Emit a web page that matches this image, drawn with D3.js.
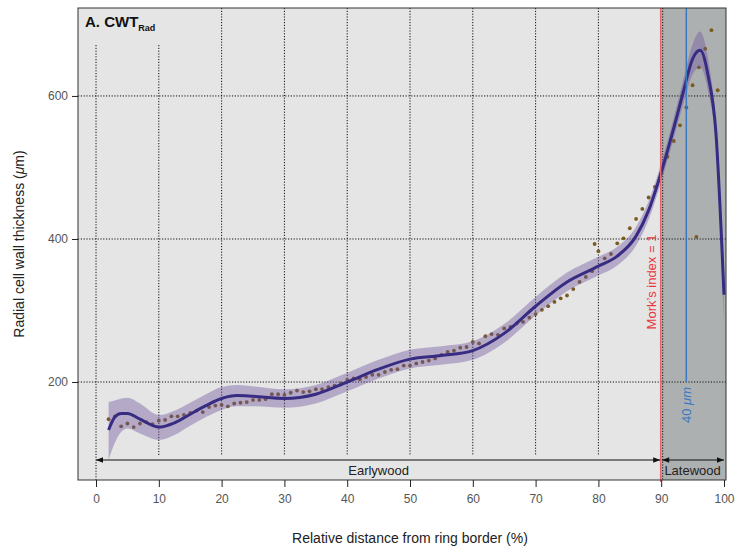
<!DOCTYPE html>
<html>
<head>
<meta charset="utf-8">
<script src="https://cdn.jsdelivr.net/npm/d3@7"></script>
<style>
  body { margin: 0; background: #fff; }
  text { font-family: "Liberation Sans", Arial, sans-serif; }
</style>
</head>
<body>
<div id="chart-area"></div>
<script>
// measured points (brown dots)
const dotX = [2, 3, 4, 5, 6, 7, 8, 9, 10, 11, 12, 13, 14, 15, 16, 17, 18, 19, 20,
  21, 22, 23, 24, 25, 26, 27, 28, 29, 30, 31, 32, 33, 34, 35, 36, 37, 38, 39, 40,
  41, 42, 43, 44, 45, 46, 47, 48, 49, 50, 51, 52, 53, 54, 55, 56, 57, 58, 59, 60,
  61, 62, 63, 64, 65, 66, 67, 68, 69, 70, 71, 72, 73, 74, 75, 76, 77, 78, 79, 79.4,
  80, 81, 82, 83, 84, 85, 86, 87, 88, 89, 90, 91, 92, 93, 94, 95, 95.6, 96, 97, 98, 99];
const dotY = [148, 152, 138, 142, 137, 142, 144, 141, 146, 147, 152, 152, 154, 157, 160, 158, 165, 167, 168,
  166, 170, 171, 172, 175, 175, 176, 183, 183, 182, 185, 188, 186, 187, 190, 190, 193, 195, 198, 203,
  205, 204, 207, 210, 210, 214, 217, 218, 223, 223, 226, 228, 230, 233, 238, 242, 244, 248, 249, 256,
  254, 264, 267, 266, 275, 277, 282, 284, 290, 295, 301, 306, 312, 317, 321, 330, 340, 347, 355, 393,
  383, 373, 379, 394, 401, 415, 428, 442, 458, 473, 492, 515, 537, 559, 584, 615, 403, 640, 666, 692, 608];

// fitted curve and its confidence band
const fitX = [2, 3, 4, 5, 7, 10, 12.5, 15, 17.5, 20, 22.5, 25, 30, 35, 40, 45, 50, 55, 60,
  65, 70, 75, 80, 83, 86, 88, 90, 92, 93.5, 95, 96.2, 97.5, 98.7, 100];
const fitY = [133, 151, 156, 156, 148, 137, 143, 155, 167, 177, 181, 180, 177, 183, 200, 218, 232, 237, 244,
  268, 306, 340, 362, 376, 404, 440, 493, 555, 605, 652, 664, 627, 550, 322];
const fitLo = [91, 115, 130, 135, 128, 119, 126, 139, 151, 161, 166, 166, 164, 170, 187, 205, 219, 224, 231,
  255, 293, 327, 349, 363, 391, 427, 480, 541, 588, 630, 640, 605, 530, 285];
const fitHi = [172, 174, 177, 178, 170, 154, 160, 171, 183, 193, 196, 194, 190, 196, 213, 231, 245, 250, 257,
  281, 319, 353, 375, 389, 417, 453, 506, 570, 622, 672, 690, 650, 565, 350];

const xTicks = [0, 10, 20, 30, 40, 50, 60, 70, 80, 90, 100];
const yTicks = [200, 400, 600];
const gridX = [0, 10, 20, 30, 40, 50, 60, 70, 80];
const morkIndex = 90;
const scaleBarX = 94;

const margin = { left: 78, right: 15, top: 8, bottom: 75 };
const width = 741 - margin.left - margin.right,
  height = 555 - margin.top - margin.bottom;

const svg = d3.select("#chart-area")
  .append("svg")
  .attr("width", 741)
  .attr("height", 555);

const g = svg.append("g")
  .attr("transform", "translate(" + margin.left + ", " + margin.top + ")");

const x = d3.scaleLinear()
  .domain([-2.87, 100.32])
  .range([0, width]);

const y = d3.scaleLinear()
  .domain([63, 723])
  .range([height, 0]);

// panel background + latewood zone
g.append("rect")
  .attr("width", width)
  .attr("height", height)
  .attr("fill", "#e5e5e5");

g.append("rect")
  .attr("x", x(morkIndex))
  .attr("width", width - x(morkIndex))
  .attr("height", height)
  .attr("fill", "#adb0b1");

// grid
const dotted = "1.2,1.6";
g.selectAll(".hgrid")
  .data(yTicks)
  .enter()
  .append("line")
  .attr("class", "hgrid")
  .attr("x1", 0)
  .attr("x2", width)
  .attr("y1", (d) => y(d))
  .attr("y2", (d) => y(d))
  .attr("stroke", "#111")
  .attr("stroke-dasharray", dotted);

g.selectAll(".vgrid")
  .data(gridX)
  .enter()
  .append("line")
  .attr("class", "vgrid")
  .attr("x1", (d) => x(d))
  .attr("x2", (d) => x(d))
  .attr("y1", (d) => (d < 20 ? 37 : 0))
  .attr("y2", (d) => (d === 0 ? height : 448))
  .attr("stroke", "#111")
  .attr("stroke-dasharray", dotted);

g.append("line")
  .attr("x1", x(morkIndex) + 1.5)
  .attr("x2", x(morkIndex) + 1.5)
  .attr("y1", 0)
  .attr("y2", height)
  .attr("stroke", "#111")
  .attr("stroke-dasharray", dotted);

// dots (drawn under the band)
g.selectAll(".dot")
  .data(dotX)
  .enter()
  .append("circle")
  .attr("class", "dot")
  .attr("cx", (d) => x(d))
  .attr("cy", (d, i) => y(dotY[i]))
  .attr("r", 1.9)
  .attr("fill", "#7a5a1e");

// confidence band
const area = d3.area()
  .x((d) => x(d))
  .y0((d, i) => y(fitLo[i]))
  .y1((d, i) => y(fitHi[i]))
  .curve(d3.curveMonotoneX);

g.append("path")
  .datum(fitX)
  .attr("d", area)
  .attr("fill", "#6c529e")
  .attr("fill-opacity", 0.4);

// fitted line
const line = d3.line()
  .x((d) => x(d))
  .y((d, i) => y(fitY[i]))
  .curve(d3.curveMonotoneX);

g.append("path")
  .datum(fitX)
  .attr("d", line)
  .attr("fill", "none")
  .attr("stroke", "#372c82")
  .attr("stroke-width", 3);

// Mork's index line
g.append("line")
  .attr("x1", x(morkIndex) - 0.5)
  .attr("x2", x(morkIndex) - 0.5)
  .attr("y1", 0)
  .attr("y2", height + 2)
  .attr("stroke", "#e4676b")
  .attr("stroke-width", 1.5);

g.append("text")
  .attr("transform", "translate(" + (x(morkIndex) - 5) + ", " + 274 + ") rotate(-90)")
  .attr("text-anchor", "middle")
  .attr("font-size", "13px")
  .attr("fill", "#e8373f")
  .text("Mork\u2019s index = 1");

// 40 µm scale bar
g.append("line")
  .attr("x1", x(scaleBarX))
  .attr("x2", x(scaleBarX))
  .attr("y1", 0)
  .attr("y2", y(200))
  .attr("stroke", "#3a78c2")
  .attr("stroke-width", 1.5);

const barLabel = g.append("text")
  .attr("transform", "translate(" + (x(scaleBarX) + 5) + ", " + 397 + ") rotate(-90)")
  .attr("text-anchor", "middle")
  .attr("font-size", "13px")
  .attr("fill", "#3a78c2");
barLabel.append("tspan").text("40 ");
barLabel.append("tspan").attr("font-style", "italic").text("\u03bcm");

// earlywood / latewood arrows
svg.append("defs").selectAll("marker")
  .data(["start", "end"])
  .enter()
  .append("marker")
  .attr("id", (d) => "arrow-" + d)
  .attr("viewBox", "0 0 10 10")
  .attr("refX", 10)
  .attr("refY", 5)
  .attr("markerWidth", 9)
  .attr("markerHeight", 7)
  .attr("markerUnits", "userSpaceOnUse")
  .attr("orient", (d) => (d === "end" ? "auto" : "auto-start-reverse"))
  .append("path")
  .attr("d", "M0,1 L10,5 L0,9 Z")
  .attr("fill", "#111");

const zones = [
  { name: "Earlywood", from: 0, to: morkIndex },
  { name: "Latewood", from: morkIndex, to: 100 },
];

g.selectAll(".zone")
  .data(zones)
  .enter()
  .append("line")
  .attr("class", "zone")
  .attr("x1", (d) => x(d.from) + (d.from === 0 ? 0 : 1))
  .attr("x2", (d) => x(d.to) - (d.to === 100 ? 0 : 1))
  .attr("y1", 452)
  .attr("y2", 452)
  .attr("stroke", "#111")
  .attr("stroke-width", 1)
  .attr("marker-start", "url(#arrow-start)")
  .attr("marker-end", "url(#arrow-end)");

g.selectAll(".zone-label")
  .data(zones)
  .enter()
  .append("text")
  .attr("class", "zone-label")
  .attr("x", (d) => x((d.from + d.to) / 2))
  .attr("y", 467)
  .attr("text-anchor", "middle")
  .attr("font-size", "13px")
  .attr("fill", "#222")
  .text((d) => d.name);

// panel frame
g.append("rect")
  .attr("width", width)
  .attr("height", height)
  .attr("fill", "none")
  .attr("stroke", "#333")
  .attr("stroke-width", 1);

// title
const title = g.append("text")
  .attr("x", 7)
  .attr("y", 19)
  .attr("font-size", "15px")
  .attr("font-weight", "bold")
  .attr("fill", "#111");
title.append("tspan").text("A. CWT");
title.append("tspan")
  .attr("font-size", "9px")
  .attr("dy", 4)
  .text("Rad");

// axes
const xAxisCall = d3.axisBottom(x)
  .tickValues(xTicks)
  .tickSize(7)
  .tickSizeOuter(0);
const xAxis = g.append("g")
  .attr("class", "x axis")
  .attr("transform", "translate(0, " + height + ")")
  .call(xAxisCall);
xAxis.select(".domain").remove();
xAxis.selectAll("text")
  .attr("font-size", "12px")
  .attr("fill", "#555")
  .attr("dy", "1.05em");
xAxis.selectAll("line").attr("stroke", "#222");

const yAxisCall = d3.axisLeft(y)
  .tickValues(yTicks)
  .tickSize(6)
  .tickSizeOuter(0);
const yAxis = g.append("g")
  .attr("class", "y axis")
  .call(yAxisCall);
yAxis.select(".domain").remove();
yAxis.selectAll("text")
  .attr("font-size", "12px")
  .attr("fill", "#555")
  .attr("x", -10);
yAxis.selectAll("line").attr("stroke", "#222");

// X Label
svg.append("text")
  .attr("x", 410)
  .attr("y", 543)
  .attr("font-size", "14px")
  .attr("text-anchor", "middle")
  .attr("fill", "#222")
  .text("Relative distance from ring border (%)");

// Y Label
const yLabel = svg.append("text")
  .attr("x", -244)
  .attr("y", 24)
  .attr("font-size", "14px")
  .attr("text-anchor", "middle")
  .attr("transform", "rotate(-90)")
  .attr("fill", "#222");
yLabel.append("tspan").text("Radial cell wall thickness (");
yLabel.append("tspan").attr("font-style", "italic").text("\u03bc");
yLabel.append("tspan").text("m)");
</script>
</body>
</html>
